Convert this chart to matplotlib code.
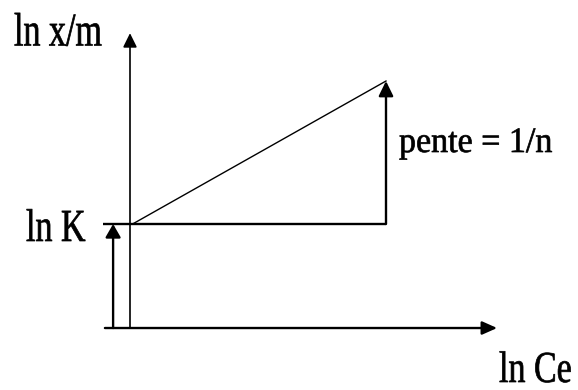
import matplotlib
matplotlib.use("Agg")
import matplotlib.pyplot as plt
from matplotlib.patches import ArrowStyle
from matplotlib.patheffects import AbstractPathEffect
from matplotlib.transforms import Affine2D

# Linearised Freundlich isotherm: ln(x/m) = ln K + (1/n) ln Ce
ln_K = 2.0          # intercept on the ln x/m axis
inv_n = 0.55        # slope 1/n
ln_Ce_end = 5.0     # end of the drawn segment
labels = {
    "y": "ln x/m",
    "x": "ln Ce",
    "k": "ln K",
    "slope": "pente = 1/n",
}

W, H = 578, 390
fig = plt.figure(figsize=(W / 100, H / 100), dpi=100)
ax = fig.add_axes([0, 0, 1, 1])
ax.set_xlim(-2.539, 8.75)
ax.set_ylim(-1.192, 6.308)
ax.axis("off")


class VStretch(AbstractPathEffect):
    """Draw text glyphs stretched vertically about their baseline, slightly emboldened."""

    def __init__(self, sy, stroke=0.5):
        super().__init__()
        self._sy = sy
        self._stroke = stroke

    def draw_path(self, renderer, gc, tpath, affine, rgbFace=None):
        gc0 = renderer.new_gc()
        gc0.copy_properties(gc)
        gc0.set_linewidth(self._stroke)
        gc0.set_foreground(rgbFace if rgbFace is not None else "black")
        renderer.draw_path(gc0, tpath, Affine2D().scale(1.0, self._sy) + affine, rgbFace)
        gc0.restore()


def arrow(tail, tip, lw=1.5, hl=9.0, hw=4.2):
    ax.annotate(
        "", xy=tip, xytext=tail,
        arrowprops=dict(
            arrowstyle=ArrowStyle("-|>", head_length=hl, head_width=hw),
            lw=lw, color="black", shrinkA=0, shrinkB=0, mutation_scale=1,
        ),
    )


# axes
arrow((0, 0), (0, 5.67), lw=1.2, hl=8.5, hw=4.2)
arrow((-0.49, 0), (7.17, 0), lw=1.7, hl=9.0, hw=4.0)

# intercept marker
arrow((-0.33, 0), (-0.33, ln_K), lw=1.7, hl=8.0, hw=4.6)
ax.plot([-0.53, ln_Ce_end], [ln_K, ln_K], color="black", lw=1.7, solid_capstyle="butt")

# fitted line and its rise
y_end = ln_K + inv_n * ln_Ce_end
ax.plot([0.05, ln_Ce_end], [ln_K, y_end], color="black", lw=1.0)
arrow((ln_Ce_end, ln_K), (ln_Ce_end, y_end), lw=1.7, hl=9.0, hw=4.4)


def label(text, px, py, size, sy):
    fig.text(px / W, 1 - py / H, text, fontsize=size, family="Liberation Serif",
             ha="left", va="baseline", color="black",
             path_effects=[VStretch(sy)])


label(labels["y"], 14, 45.5, 24.5, 1.38)
label(labels["k"], 26, 241, 24.5, 1.35)
label(labels["slope"], 399, 152, 24.5, 1.05)
label(labels["x"], 499, 382, 24.5, 1.3)

fig.savefig("out.png", dpi=100)
